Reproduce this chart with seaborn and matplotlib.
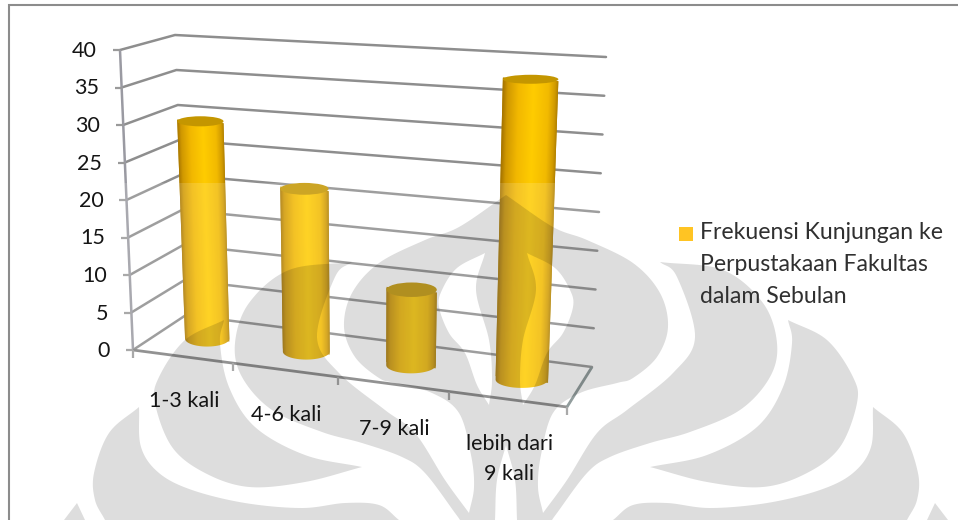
import numpy as np
import pandas as pd
import matplotlib
matplotlib.use("Agg")
import matplotlib.pyplot as plt
import seaborn as sns
from matplotlib.path import Path
from matplotlib.patches import PathPatch, Rectangle, Ellipse
from matplotlib.transforms import Transform

# Chart content
categories = ["1-3 kali", "4-6 kali", "7-9 kali", "lebih dari\n9 kali"]
values = [29.7, 21.8, 9.9, 38.6]
value_ticks = [0, 5, 10, 15, 20, 25, 30, 35, 40]
legend_label = "Frekuensi Kunjungan ke\nPerpustakaan Fakultas\ndalam Sebulan"

# Pixel positions of the 3D box corners (x, y), front/back, bottom/top, left/right
FBL, FBR = np.array([133., 350.]), np.array([567., 407.])
BBL, BBR = np.array([186., 315.]), np.array([592., 367.])
FTL, FTR = np.array([120., 50.]), np.array([578., 88.])
BTL, BTR = np.array([175., 35.]), np.array([606., 57.])
VALUE_MAX = 40.0
N_CAT = 4
FORESHORTEN = 0.894

GRID = "#8e8e8e"
AXIS = "#8a8a8a"
CAP = (0.77, 0.59, 0.0)
SIDE_STOPS = [0.0, 0.08, 0.28, 0.55, 0.82, 0.94, 1.0]
SIDE_RGB = np.array([[168, 118, 0], [208, 152, 0], [242, 184, 0], [255, 204, 0],
                     [242, 186, 0], [208, 154, 0], [172, 124, 0]]) / 255


def project(cat, value, depth):
    """Map category position, value and depth (0 front, 1 back) to pixels."""
    cat, value, depth = (np.asarray(a, float) for a in (cat, value, depth))
    u = (cat + 0.5) / N_CAT
    f = u * FORESHORTEN / (1 + (FORESHORTEN - 1) * u)
    h = value / VALUE_MAX
    out = []
    for i in range(2):
        fb = FBL[i] + (FBR[i] - FBL[i]) * f
        bb = BBL[i] + (BBR[i] - BBL[i]) * f
        ft = FTL[i] + (FTR[i] - FTL[i]) * f
        bt = BTL[i] + (BTR[i] - BTL[i]) * f
        bottom = fb + (bb - fb) * depth
        top = ft + (bt - ft) * depth
        out.append(bottom + (top - bottom) * h)
    return np.stack(out, axis=-1)


class BoxProjection(Transform):
    """(category, value) on the mid-depth plane of the box, to pixels."""
    input_dims = 2
    output_dims = 2

    def transform_non_affine(self, xy):
        xy = np.asarray(xy, float)
        return project(xy[:, 0], xy[:, 1], 0.5)


def smooth(points, n=14):
    """Catmull-Rom curve through a list of outline points."""
    p = np.array(points, float)
    if len(p) < 3:
        return p
    q = np.vstack([2 * p[0] - p[1], p, 2 * p[-1] - p[-2]])
    out = []
    for i in range(1, len(q) - 2):
        t = np.linspace(0, 1, n, endpoint=False)[:, None]
        a, b, c, d = q[i - 1], q[i], q[i + 1], q[i + 2]
        out.append(0.5 * (2 * b + (c - a) * t + (2 * a - 5 * b + 4 * c - d) * t ** 2
                          + (3 * b - a - 3 * c + d) * t ** 3))
    out.append(p[-1:])
    return np.vstack(out)


def outline(edges):
    return np.vstack([smooth(e) for e in edges])


def mirrored(poly, axis_x=506.0):
    m = poly.copy()
    m[:, 0] = 2 * axis_x - m[:, 0]
    return m


def oriented(poly, ccw=True):
    x, y = poly[:, 0], poly[:, 1]
    area = np.sum(x * np.roll(y, -1) - np.roll(x, -1) * y)
    return poly if (area > 0) == ccw else poly[::-1]


def compound(polys):
    verts, codes = [], []
    for p in polys:
        verts.extend(p.tolist() + [p[0].tolist()])
        codes.extend([Path.MOVETO] + [Path.LINETO] * (len(p) - 1) + [Path.CLOSEPOLY])
    return Path(verts, codes)


# Background emblem outlines, right half; the left half is their reflection
main_right = outline([
    [(506, 195), (553, 227), (587, 240), (633, 263), (660, 293), (668, 327), (657, 357),
     (633, 378), (617, 383), (580, 393), (553, 413), (541, 455), (538, 487), (543, 513)],
    [(543, 513), (567, 480), (597, 433), (627, 410), (673, 373), (695, 337), (677, 277), (660, 262)],
    [(660, 262), (723, 270), (763, 303), (777, 343), (770, 377), (740, 410), (690, 432),
     (650, 443), (610, 457), (587, 473), (557, 513), (552, 520)],
    [(552, 520), (517, 520)],
    [(517, 520), (515, 480), (506, 445)],
])
petal = outline([
    [(527, 253), (555, 268), (570, 290), (573, 307), (563, 333), (547, 353), (535, 385), (523, 405)],
    [(523, 405), (520, 380), (523, 340), (536, 290), (527, 253)],
])
lobe_mid = outline([
    [(788, 320), (827, 340), (853, 377), (857, 403), (840, 447), (807, 473), (763, 487), (707, 482), (650, 467)],
    [(650, 467), (707, 455), (757, 427), (783, 387), (792, 343), (788, 320)],
])
lobe_low = outline([
    [(873, 407), (903, 433), (918, 473), (917, 500), (907, 520)],
    [(907, 520), (613, 520)],
    [(613, 520), (633, 505), (667, 503), (710, 508), (767, 503), (820, 490), (853, 473), (871, 447), (873, 407)],
])
tip = outline([[(935, 503), (948, 520)], [(948, 520), (927, 520)], [(927, 520), (935, 503)]])

sns.set_theme(style="white")
plt.rcParams["font.family"] = ["Lato", "DejaVu Sans"]

fig = plt.figure(figsize=(9.58, 5.2), dpi=100, facecolor="white")
ax = fig.add_axes([0, 0, 1, 1])

# Cylinders start from seaborn bars, then get re-projected into the 3D box
positions = np.arange(len(values))
sns.barplot(x=positions, y=values, native_scale=True, width=0.46, color="#b88a00",
            saturation=1, errorbar=None, ax=ax, zorder=3)
bars = list(ax.patches)

# Walls and floor
rows = []
for line_id, v in enumerate(value_ticks):
    path_pts = [project(-0.5, v, 0.0), project(-0.5, v, 1.0), project(N_CAT - 0.5, v, 1.0)]
    for px, py in path_pts:
        rows.append((line_id, px, py))
grid_df = pd.DataFrame(rows, columns=["line", "px", "py"])
sns.lineplot(data=grid_df, x="px", y="py", units="line", estimator=None, sort=False,
             color=GRID, linewidth=1.8, legend=False, ax=ax, zorder=1)


def segment(p, q, color=AXIS, lw=1.6, z=2):
    ax.plot([p[0], q[0]], [p[1], q[1]], color=color, lw=lw, zorder=z, solid_capstyle="butt")


segment(project(-0.5, 0, 0), project(-0.5, VALUE_MAX, 0), "#9a9aa2", 1.8)
segment(project(-0.5, 0, 0), project(N_CAT - 0.5, 0, 0), "#808080", 2.0)
segment(project(N_CAT - 0.5, 0, 0), project(N_CAT - 0.5, 0, 1), "#7f8c8c", 2.0)

for v in value_ticks:
    p = project(-0.5, v, 0)
    segment(p + [-7, 0], p, "#9a9a9a")
    ax.text(p[0] - 23, p[1] + 1, str(v), ha="right", va="center", fontsize=15.5,
            color="#151515", zorder=9)

for i in range(N_CAT + 1):
    p = project(i - 0.5, 0, 0)
    segment(p, p + [0, 8], "#9a9a9a")

# Category labels hang below the front edge
for i, lab in enumerate(categories):
    p = project(i, 0, 0)
    ax.text(p[0] + 2, p[1] + 35, lab, ha="center", va="top", fontsize=15.5, color="#151515",
            linespacing=1.62, zorder=9)


def cap_half(y):
    return 4.5 + (y - 80) * 0.013


# Cylinder shading, caps and rounded feet
for rect in bars:
    x0, w, h = rect.get_x(), rect.get_width(), rect.get_height()
    rect.set_transform(BoxProjection() + ax.transData)
    rect.set_edgecolor("none")
    bl, br = project(x0, 0, 0.5), project(x0 + w, 0, 0.5)
    tl, tr = project(x0, h, 0.5), project(x0 + w, h, 0.5)
    bc, tc = (bl + br) / 2, (tl + tr) / 2
    hb, ht = cap_half(bc[1]), cap_half(tc[1])
    ang = np.linspace(0, np.pi, 40)
    foot = np.column_stack([bc[0] + (br[0] - bl[0]) / 2 * np.cos(ang), bc[1] + hb * np.sin(ang)])
    body = np.vstack([tl, tr, foot])

    xs = np.linspace(min(bl[0], tl[0]) - 1, max(br[0], tr[0]) + 1, 160)
    ys = np.linspace(tc[1] - 1, bc[1] + hb + 1, 90)
    s = (ys - tc[1]) / (bc[1] - tc[1])
    left = tl[0] + (bl[0] - tl[0]) * s
    right = tr[0] + (br[0] - tr[0]) * s
    t = np.clip((xs[None, :] - left[:, None]) / (right - left)[:, None], 0, 1)
    shade = np.dstack([np.interp(t, SIDE_STOPS, SIDE_RGB[:, c]) for c in range(3)])
    im = ax.imshow(shade, extent=(xs[0], xs[-1], ys[-1], ys[0]), aspect="auto",
                   interpolation="bilinear", zorder=3.5)
    im.set_clip_path(Path(body), transform=ax.transData)
    ax.add_patch(Ellipse(tc, tr[0] - tl[0], 2 * ht, facecolor=CAP, edgecolor="none", zorder=4))

# Emblem overlay: a pale veil from its upper edge, with grey shapes above it
ax.add_patch(Rectangle((0, 183), 958, 337, facecolor="white", edgecolor="none", alpha=0.15, zorder=5))
polys = [
    oriented(np.vstack([main_right, mirrored(main_right)[::-1]]), True),
    oriented(petal, False), oriented(mirrored(petal), False),
]
for shape in (lobe_mid, lobe_low, tip):
    polys += [oriented(shape, True), oriented(mirrored(shape), True)]
ax.add_patch(PathPatch(compound(polys), facecolor="black", edgecolor="none", alpha=0.133, zorder=6))

# Outer chart frame, open to the right and at the bottom
ax.plot([9, 9, 958], [520, 5, 5], color="#8c8c8c", lw=1.5, zorder=7, solid_joinstyle="miter")

# Legend key and wrapped label
ax.add_patch(Rectangle((679, 227), 14, 14, facecolor="#ffc423", edgecolor="none", zorder=9))
ax.text(700, 222, legend_label, ha="left", va="top", fontsize=16.6, color="#303030",
        linespacing=1.66, zorder=9)

ax.set_xlim(0, 958)
ax.set_ylim(520, 0)
ax.axis("off")
fig.savefig("out.png", dpi=100, facecolor="white")
